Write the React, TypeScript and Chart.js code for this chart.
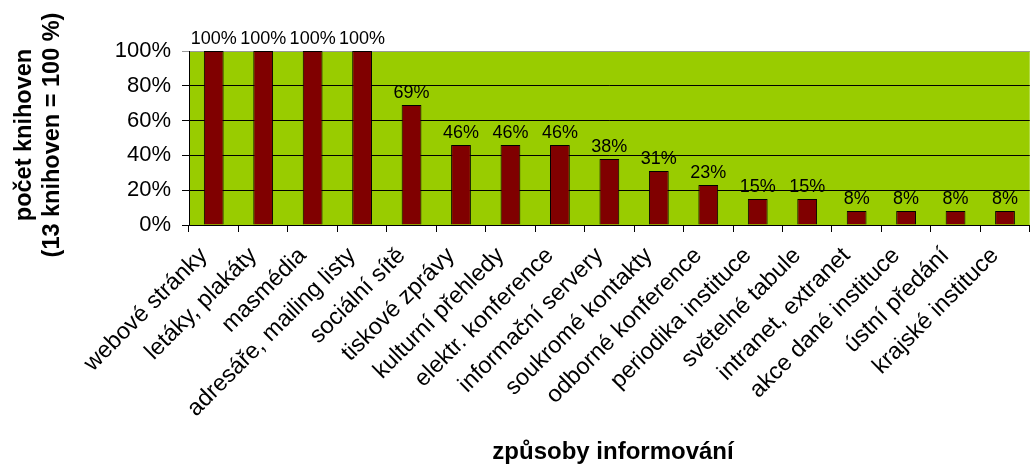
import { useEffect, useRef } from 'react';
import { Chart, registerables } from 'chart.js';

Chart.register(...registerables);

const categories = [
  'webové stránky',
  'letáky, plakáty',
  'masmédia',
  'adresáře, mailing listy',
  'sociální sítě',
  'tiskové zprávy',
  'kulturní přehledy',
  'elektr. konference',
  'informační servery',
  'soukromé kontakty',
  'odborné konference',
  'periodika instituce',
  'světelné tabule',
  'intranet, extranet',
  'akce dané instituce',
  'ústní předání',
  'krajské instituce',
];
const values = [100, 100, 100, 100, 69, 46, 46, 46, 38, 31, 23, 15, 15, 8, 8, 8, 8];
const yTickValues = [0, 20, 40, 60, 80, 100];
const yTitleLines = ['počet knihoven', '(13 knihoven = 100 %)'];
const xTitle = 'způsoby informování';

const FONT = 'Arial, "Liberation Sans", sans-serif';

const bgPlugin = {
  id: 'plotBg',
  beforeDraw(chart: any) {
    const { ctx, chartArea } = chart;
    const { left, top, right, bottom } = chartArea;
    ctx.save();
    ctx.fillStyle = '#99CC00';
    ctx.fillRect(left, top, right - left, bottom - top);
    ctx.restore();
  },
};

const labelPlugin = {
  id: 'barLabels',
  afterDatasetsDraw(chart: any) {
    const { ctx } = chart;
    const meta = chart.getDatasetMeta(0);
    ctx.save();
    ctx.font = `18px ${FONT}`;
    ctx.fillStyle = '#000';
    ctx.textAlign = 'center';
    ctx.textBaseline = 'bottom';
    meta.data.forEach((bar: any, i: number) => {
      ctx.fillText(`${values[i]}%`, bar.x, bar.y - 3);
    });
    ctx.restore();
  },
};

const titlePlugin = {
  id: 'axisTitles',
  afterDraw(chart: any) {
    const { ctx, chartArea } = chart;
    const cy = (chartArea.top + chartArea.bottom) / 2 - 3;
    ctx.save();
    ctx.fillStyle = '#000';
    ctx.textAlign = 'center';
    ctx.textBaseline = 'middle';
    ctx.font = `bold 23.5px ${FONT}`;
    ctx.translate(0, cy);
    ctx.rotate(-Math.PI / 2);
    ctx.fillText(yTitleLines[0], 0, 25);
    ctx.fillText(yTitleLines[1], 0, 53);
    ctx.restore();

    ctx.save();
    ctx.fillStyle = '#000';
    ctx.textAlign = 'center';
    ctx.textBaseline = 'middle';
    ctx.font = `bold 24px ${FONT}`;
    ctx.fillText(xTitle, 613, 452);
    ctx.restore();
  },
};

export default function App() {
  const ref = useRef<HTMLCanvasElement>(null);

  useEffect(() => {
    if (!ref.current) return;
    const chart = new Chart(ref.current, {
      type: 'bar',
      data: {
        labels: categories,
        datasets: [
          {
            data: values,
            backgroundColor: '#800000',
            borderColor: '#000000',
            borderWidth: 1,
            barPercentage: 0.4,
            categoryPercentage: 1,
          },
        ],
      },
      options: {
        responsive: false,
        animation: false,
        devicePixelRatio: 1,
        layout: { padding: { top: 51, right: 2, left: 0, bottom: 0 } },
        plugins: {
          legend: { display: false },
          tooltip: { enabled: false },
        },
        scales: {
          x: {
            grid: {
              display: true,
              drawOnChartArea: false,
              drawTicks: true,
              tickLength: 7,
              color: '#000',
              offset: true,
            },
            border: { display: true, color: '#000', width: 1 },
            ticks: {
              autoSkip: false,
              minRotation: 45,
              maxRotation: 45,
              padding: 10,
              labelOffset: -10,
              color: '#000',
              font: { family: FONT, size: 23.5 },
            },
            afterFit(scale: any) {
              scale.height = 246;
            },
          },
          y: {
            min: 0,
            max: 100,
            afterBuildTicks(scale: any) {
              scale.ticks = yTickValues.map((v) => ({ value: v }));
            },
            grid: {
              color: (c: any) => (c.tick && c.tick.value === 100 ? '#999999' : '#000000'),
              drawTicks: true,
              tickLength: 7,
              lineWidth: 1,
            },
            border: { display: true, color: '#000', width: 1 },
            ticks: {
              padding: 11,
              color: '#000',
              font: { family: FONT, size: 22 },
              callback: (v: any) => `${v}%`,
            },
            afterFit(scale: any) {
              scale.width = 189;
            },
          },
        },
      },
      plugins: [bgPlugin, labelPlugin, titlePlugin],
    });
    return () => chart.destroy();
  }, []);

  return (
    <div style={{ position: 'fixed', left: 0, top: 0, width: 1035, height: 471 }}>
      <canvas
        ref={ref}
        width={1035}
        height={471}
        style={{ width: 1035, height: 471, display: 'block' }}
      />
    </div>
  );
}
